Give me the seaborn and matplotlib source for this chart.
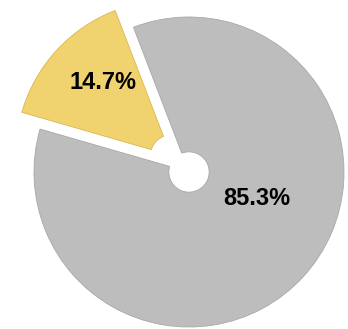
import matplotlib
matplotlib.use("Agg")
import matplotlib.pyplot as plt
import seaborn as sns
import numpy as np
from matplotlib import font_manager

labels = ["Yellow", "Grey"]
values = [14.7, 85.3]
label_texts = ["14.7%", "85.3%"]
colors = ["#F0D26E", "#BDBDBD"]

sns.set_theme(style="white")
names = {f.name for f in font_manager.fontManager.ttflist}
fam = ['Liberation Sans Narrow', 'Liberation Sans', 'DejaVu Sans'] if 'Liberation Sans Narrow' in names else ['Liberation Sans', 'DejaVu Sans']
fsize = 20 if 'Liberation Sans Narrow' in names else 17
plt.rcParams['font.family'] = fam

fig = plt.figure(figsize=(3.48, 3.29), dpi=100)
ax = fig.add_axes([0, 0, 1, 1])

wedges, _ = ax.pie(values, colors=colors, startangle=111, counterclock=True,
                   explode=[0.16, 0.0], radius=1.0,
                   wedgeprops=dict(width=0.87, edgecolor="#A8A8A8", linewidth=0.6))
wedges[0].set_edgecolor("#D8B850")

ang0 = np.deg2rad(134)
ax.text(0.80 * np.cos(ang0), 0.80 * np.sin(ang0), label_texts[0], ha="center", va="center",
        fontsize=fsize, fontweight="bold", color="black")
ang1 = np.deg2rad(-21.5)
ax.text(0.47 * np.cos(ang1), 0.47 * np.sin(ang1), label_texts[1], ha="center", va="center",
        fontsize=fsize, fontweight="bold", color="black")

ax.set_xlim(-189 / 155, 159 / 155)
ax.set_ylim(-157 / 155, 172 / 155)
ax.set_aspect("equal")
ax.axis("off")

fig.savefig("out.png", dpi=100)
